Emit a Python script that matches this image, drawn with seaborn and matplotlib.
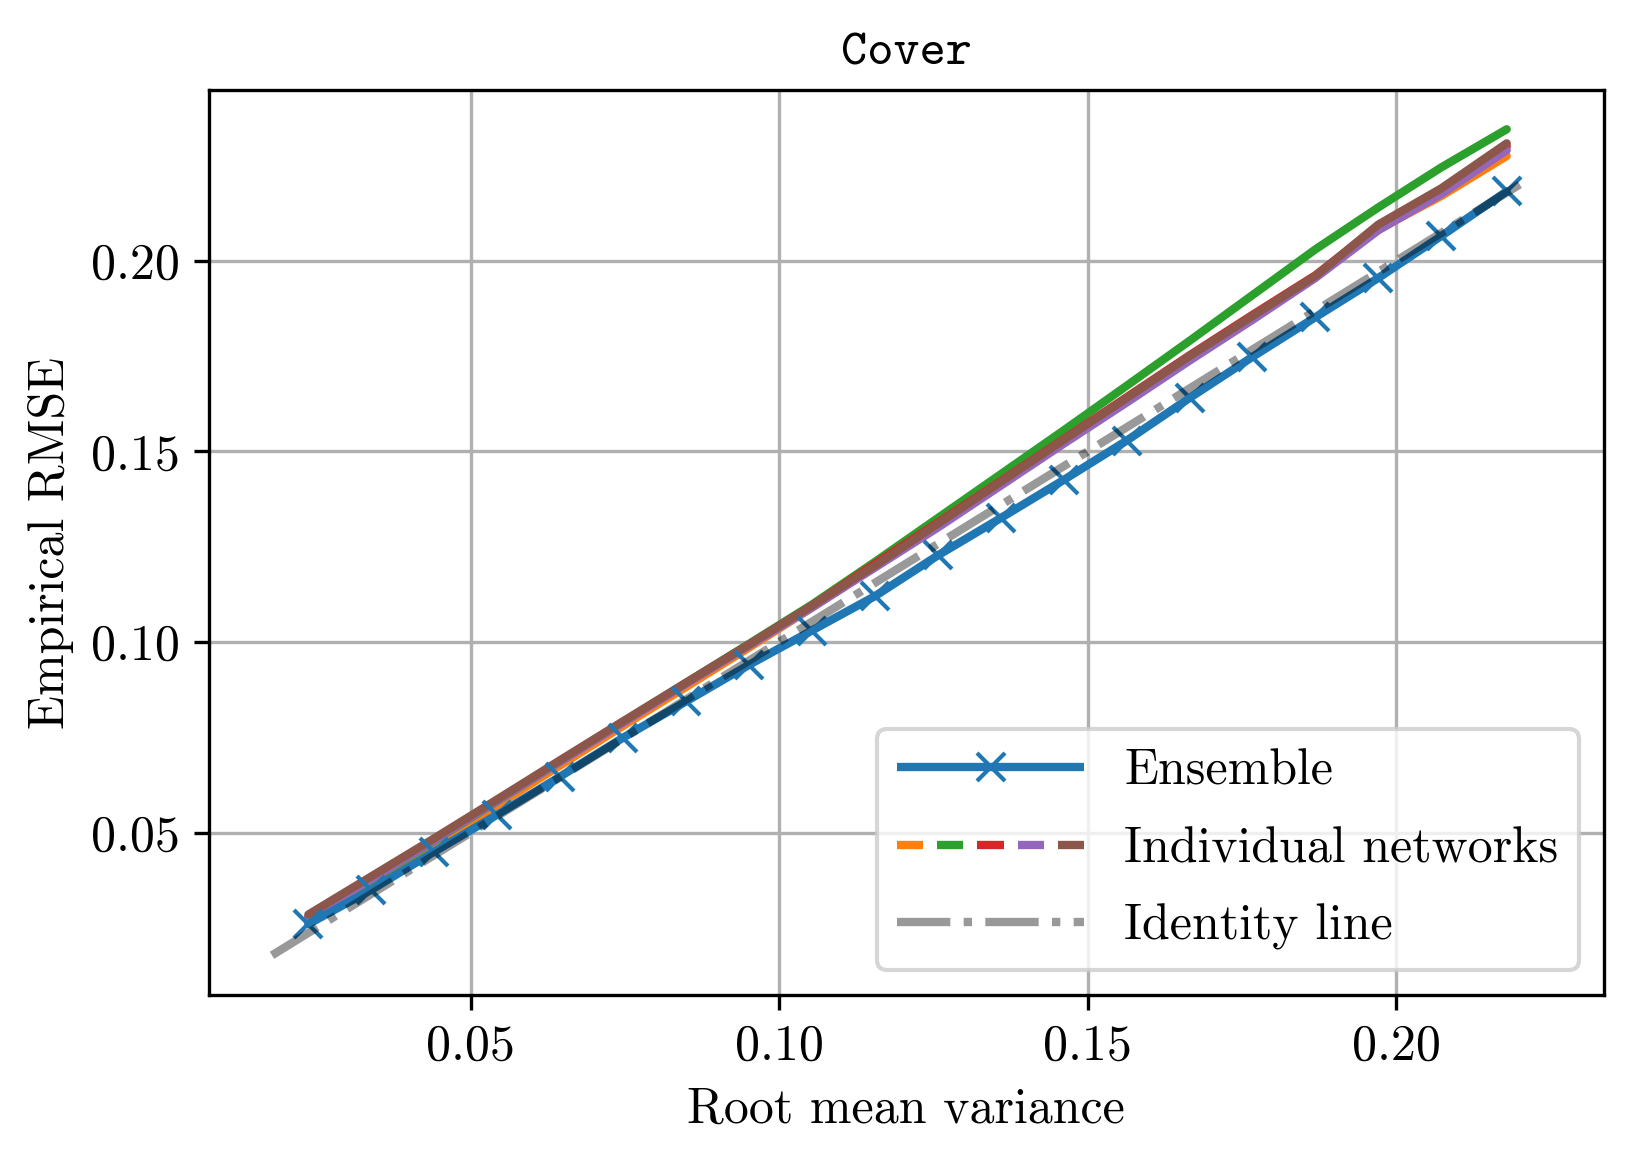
import pandas as pd
import matplotlib
import matplotlib.pyplot as plt
import seaborn as sns
from matplotlib.lines import Line2D
from matplotlib.legend_handler import HandlerTuple

# --- Data ---
rmv = [0.0237, 0.0339, 0.0441, 0.0543, 0.0645, 0.0747, 0.0849, 0.0951, 0.1053, 0.1155,
       0.1257, 0.1359, 0.1461, 0.1563, 0.1665, 0.1767, 0.1869, 0.1971, 0.2073, 0.2179]

ensemble_rmse = [0.0260, 0.0350, 0.0450, 0.0547, 0.0647, 0.0749, 0.0844, 0.0940, 0.1030, 0.1120,
                 0.1227, 0.1325, 0.1425, 0.1528, 0.1640, 0.1748, 0.1852, 0.1955, 0.2065, 0.2182]

net_names = ['net1', 'net2', 'net3', 'net4', 'net5']
net1_rmse = [0.0265, 0.0365, 0.0468, 0.0572, 0.0676, 0.0780, 0.0882, 0.0985, 0.1090, 0.1198,
             0.1305, 0.1415, 0.1525, 0.1635, 0.1745, 0.1852, 0.1958, 0.2082, 0.2170, 0.2275]
net2_rmse = [0.0275, 0.0375, 0.0478, 0.0582, 0.0686, 0.0790, 0.0893, 0.0995, 0.1098, 0.1210,
             0.1325, 0.1440, 0.1555, 0.1672, 0.1790, 0.1910, 0.2030, 0.2140, 0.2245, 0.2345]
net3_rmse = [0.0280, 0.0380, 0.0482, 0.0585, 0.0688, 0.0790, 0.0892, 0.0993, 0.1095, 0.1205,
             0.1313, 0.1422, 0.1532, 0.1642, 0.1752, 0.1858, 0.1962, 0.2090, 0.2188, 0.2300]
net4_rmse = [0.0278, 0.0378, 0.0480, 0.0583, 0.0686, 0.0788, 0.0890, 0.0990, 0.1090, 0.1195,
             0.1300, 0.1410, 0.1520, 0.1628, 0.1738, 0.1845, 0.1955, 0.2080, 0.2175, 0.2290]
net5_rmse = [0.0285, 0.0385, 0.0485, 0.0587, 0.0690, 0.0792, 0.0893, 0.0993, 0.1095, 0.1200,
             0.1310, 0.1420, 0.1530, 0.1640, 0.1750, 0.1855, 0.1960, 0.2095, 0.2190, 0.2308]

identity_x = [0.0178, 0.2218]

net_colors = ['C1', 'C2', 'C3', 'C4', 'C5']

# --- Style ---
sns.set_style('ticks')
plt.rcParams['font.family'] = ['serif']
plt.rcParams['font.serif'] = ['cmr10']
plt.rcParams['mathtext.fontset'] = 'cm'
plt.rcParams['axes.formatter.use_mathtext'] = True
plt.rcParams['font.size'] = 12
plt.rcParams['axes.unicode_minus'] = False
for key in ['text.color', 'axes.labelcolor', 'xtick.color', 'ytick.color', 'axes.edgecolor']:
    plt.rcParams[key] = 'black'

fig, ax = plt.subplots(figsize=(1633 / 300, 1161 / 300), dpi=300)
fig.subplots_adjust(left=0.128, right=0.982, top=0.9225, bottom=0.143)

df_nets = pd.concat(
    [pd.DataFrame({'rmv': rmv, 'rmse': vals, 'net': name})
     for name, vals in zip(net_names, [net1_rmse, net2_rmse, net3_rmse, net4_rmse, net5_rmse])],
    ignore_index=True)

sns.lineplot(data=df_nets, x='rmv', y='rmse', hue='net', palette=net_colors,
             estimator=None, linewidth=2, legend=False, ax=ax)

sns.lineplot(x=rmv, y=ensemble_rmse, color='C0', linewidth=2, marker='x', markersize=6.5,
             markeredgecolor='C0', markeredgewidth=1.0, estimator=None, ax=ax)

sns.lineplot(x=identity_x, y=identity_x, color='k', alpha=0.4, linestyle='-.',
             linewidth=2, estimator=None, ax=ax)

ax.set_xlim(0.0076, 0.2336)
ax.set_ylim(0.0074, 0.2448)
ax.set_xticks([0.05, 0.10, 0.15, 0.20])
ax.set_yticks([0.05, 0.10, 0.15, 0.20])
ax.set_xticklabels(['0.05', '0.10', '0.15', '0.20'])
ax.set_yticklabels(['0.05', '0.10', '0.15', '0.20'])
ax.grid(True, color='#b0b0b0', linewidth=0.8)
for s in ax.spines.values():
    s.set_linewidth(0.8)
    s.set_color('black')

ax.set_xlabel('Root mean variance')
ax.set_ylabel('Empirical RMSE')
ax.set_title('Cover', family='cmtt10', fontsize=12)

# --- Legend ---
ens_handle = Line2D([], [], color='C0', linewidth=2, marker='x', markersize=6.5,
                    markeredgewidth=1.0, solid_capstyle='butt')
net_handles = tuple(Line2D([], [], color=c, linewidth=2, solid_capstyle='butt') for c in net_colors)
id_handle = Line2D([], [], color='k', alpha=0.4, linestyle='-.', linewidth=2)
ax.legend([ens_handle, net_handles, id_handle],
          ['Ensemble', 'Individual networks', 'Identity line'],
          handler_map={tuple: HandlerTuple(ndivide=None, pad=0.28)},
          loc='lower right', handlelength=3.75, labelspacing=0.63, fontsize=12)

fig.savefig('out.png', dpi=300)
